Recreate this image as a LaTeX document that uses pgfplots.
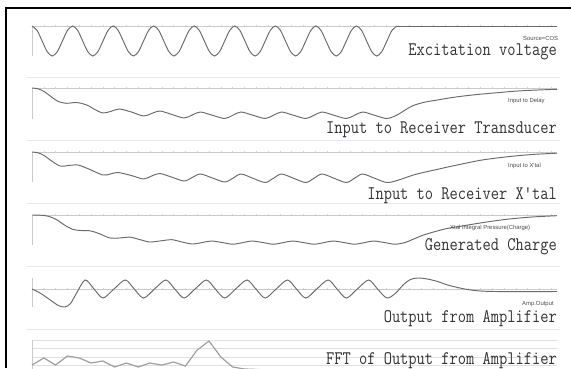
\documentclass[border=0pt]{standalone}
\usepackage{fontspec}
\usepackage{pgfplots}
\pgfplotsset{compat=1.18}
\newfontfamily\smallsans{Liberation Sans}
\definecolor{wave}{HTML}{6A6A6A}
\definecolor{base}{HTML}{CACACA}
\definecolor{sep}{HTML}{E6E6EE}
\definecolor{fftc}{HTML}{A0A0A0}
\newcommand{\bigtxt}[1]{\scalebox{1}[1.2]{\fontsize{16}{16}\selectfont\ttfamily #1}}
\pgfplotsset{
 panel/.style={
  scale only axis, width=525pt, xmin=0, xmax=12.944,
  y dir=reverse, clip=false,
  axis x line*=middle, axis y line*=left,
  axis line style={draw=base, line width=0.6pt},
  xtick distance=0.2909, xticklabels={}, ytick=\empty,
  tick align=center, major tick length=2.6pt,
  tick style={draw=base!80!white, line width=0.45pt},
  anchor=origin,
 },
 wavestyle/.style={draw=wave, line width=0.95pt, smooth, no marks},
}
\begin{document}
\begin{tikzpicture}
\useasboundingbox (0,0) rectangle (571pt,-368pt);
\fill[white] (0,0) rectangle (571pt,-368pt);
\clip (0,0) rectangle (571pt,-368pt);
% panel separators
\draw[sep, line width=0.8pt] (27pt,-77pt) -- (560pt,-77pt);
\draw[sep, line width=0.8pt] (27pt,-140pt) -- (560pt,-140pt);
\draw[sep, line width=0.8pt] (27pt,-203pt) -- (560pt,-203pt);
\draw[sep, line width=0.8pt] (27pt,-266pt) -- (560pt,-266pt);
\draw[sep, line width=0.8pt] (27pt,-329pt) -- (560pt,-329pt);

% 1 Excitation voltage
\begin{axis}[panel, at={(32pt,-26pt)}, ymin=0, ymax=30, height=30pt]
\addplot[wavestyle] coordinates {
(0,0)(0.125,4.39)(0.25,15)(0.375,25.61)(0.5,30)(0.625,25.61)(0.75,15)(0.875,4.39)
(1,0)(1.125,4.39)(1.25,15)(1.375,25.61)(1.5,30)(1.625,25.61)(1.75,15)(1.875,4.39)
(2,0)(2.125,4.39)(2.25,15)(2.375,25.61)(2.5,30)(2.625,25.61)(2.75,15)(2.875,4.39)
(3,0)(3.125,4.39)(3.25,15)(3.375,25.61)(3.5,30)(3.625,25.61)(3.75,15)(3.875,4.39)
(4,0)(4.125,4.39)(4.25,15)(4.375,25.61)(4.5,30)(4.625,25.61)(4.75,15)(4.875,4.39)
(5,0)(5.125,4.39)(5.25,15)(5.375,25.61)(5.5,30)(5.625,25.61)(5.75,15)(5.875,4.39)
(6,0)(6.125,4.39)(6.25,15)(6.375,25.61)(6.5,30)(6.625,25.61)(6.75,15)(6.875,4.39)
(7,0)(7.125,4.39)(7.25,15)(7.375,25.61)(7.5,30)(7.625,25.61)(7.75,15)(7.875,4.39)
(8,0)(8.125,4.39)(8.25,15)(8.375,25.61)(8.5,30)(8.625,25.61)(8.75,15)(8.875,4.39)
(9,0)};
\addplot[draw=wave, line width=0.95pt, no marks] coordinates {(9,0) (12.944,0)};
\end{axis}

% 2 Input to Receiver Transducer
\begin{axis}[panel, at={(32pt,-88pt)}, ymin=0, ymax=31, height=31pt]
\addplot[wavestyle] coordinates {
(0,0) (0.15,0.8) (0.3,3.5) (0.45,8) (0.65,13.5) (0.85,15.3) (1.1,14.5) (1.35,17)
(1.55,21.5) (1.75,25) (1.95,23.3) (2.15,21) (2.45,24) (2.75,28) (2.95,25.5) (3.15,23)
(3.45,26.5) (3.75,30) (3.95,27) (4.15,24) (4.45,27.3) (4.75,30.5) (4.95,27.3) (5.15,24)
(5.45,27.3) (5.75,30.5) (5.95,27.3) (6.15,24) (6.45,27.3) (6.75,30.5) (6.95,27.3) (7.15,24)
(7.45,27.3) (7.75,30.5) (7.95,27.3) (8.15,24) (8.45,27.3) (8.75,30.5) (9.0,27) (9.2,22)
(9.4,17.5) (9.7,14) (10.0,12) (10.25,10.2) (10.6,8.2) (11.05,6.2) (11.5,4.6) (11.9,3.2)
(12.4,2.1) (12.944,1.3)};
\end{axis}

% 3 Input to Receiver X'tal
\begin{axis}[panel, at={(32pt,-152pt)}, ymin=0, ymax=30, height=30pt]
\addplot[wavestyle] coordinates {
(0,0) (0.15,0.8) (0.3,3.5) (0.45,8) (0.69,14) (0.9,13.5) (1.13,13) (1.4,17)
(1.75,23) (1.95,21.8) (2.12,20.5) (2.45,23.5) (2.75,27) (2.95,24) (3.15,21.5) (3.45,25.2)
(3.75,29) (3.95,25.5) (4.15,22) (4.45,26) (4.75,30) (4.95,26.3) (5.15,22) (5.45,26.3)
(5.75,30.5) (5.95,26.3) (6.15,22) (6.45,26.3) (6.75,30.5) (6.95,26.3) (7.15,22) (7.45,26.3)
(7.75,30.5) (7.95,26.3) (8.15,22) (8.45,26.3) (8.75,30.5) (9.0,28.5) (9.2,25.8) (9.4,23)
(9.7,20) (10.0,17.3) (10.25,15) (10.6,12) (11.05,8.3) (11.5,5.8) (11.9,4) (12.4,2.3)
(12.944,1.2)};
\end{axis}

% 4 Generated Charge
\begin{axis}[panel, at={(32pt,-215pt)}, ymin=0, ymax=30, height=30pt]
\addplot[wavestyle] coordinates {
(0,0) (0.2,0.2) (0.4,1.2) (0.6,4.5) (0.8,10) (1.0,14.3) (1.2,15.5) (1.43,15.8)
(1.65,18.5) (1.92,23) (2.15,23) (2.42,22.2) (2.65,24.5) (2.91,27) (3.2,25.7) (3.45,24.7)
(3.7,27) (3.95,29) (4.2,27.5) (4.42,26) (4.7,27.6) (4.95,29.2) (5.2,27.6) (5.42,26)
(5.7,27.6) (5.95,29.2) (6.2,27.6) (6.42,26) (6.7,27.6) (6.95,29.2) (7.2,27.6) (7.42,26)
(7.7,27.6) (7.95,29.2) (8.2,27.6) (8.42,26) (8.7,27.6) (8.95,29.2) (9.2,27.5) (9.4,24.2)
(9.64,20.2) (9.9,17) (10.23,13.5) (10.6,11) (11.05,8) (11.45,5.6) (11.86,3.6) (12.4,1.8)
(12.944,0.7)};
\end{axis}

% 5 Output from Amplifier
\begin{axis}[panel, at={(32pt,-289pt)}, ymin=-11, ymax=18, height=29pt]
\addplot[wavestyle] coordinates {
(0,0) (0.2,4) (0.45,11) (0.65,16.5) (0.81,18) (0.95,14.5) (1.1,4) (1.31,-9)
(1.53,0) (1.75,9) (2.02,0) (2.3,-9) (2.52,0) (2.75,9) (3.02,0) (3.3,-9)
(3.52,0) (3.75,9) (4.02,0) (4.3,-9) (4.52,0) (4.75,9) (5.02,0) (5.3,-9)
(5.52,0) (5.75,9) (6.02,0) (6.3,-9) (6.52,0) (6.75,9) (7.02,0) (7.3,-9)
(7.52,0) (7.75,9) (8.02,0) (8.3,-9) (8.52,0) (8.75,9) (8.97,4) (9.15,-4)
(9.33,-9.5) (9.52,-11) (9.75,-10) (10.0,-7.5) (10.25,-4) (10.55,-1) (10.85,1.2) (11.2,2.3)
(11.8,2.6) (12.944,2.5)};
\end{axis}

% 6 FFT of Output from Amplifier
\begin{axis}[at={(32pt,-373.6pt)}, anchor=origin, scale only axis,
  width=525pt, height=33.6pt, xmin=0, xmax=44.49, ymin=0, ymax=4,
  axis x line=none, axis y line*=left,
  axis line style={draw=base, line width=0.6pt},
  ytick={0,1,2,3,4}, yticklabels={}, major tick length=0pt,
  ymajorgrids, grid style={draw=sep!70!base, line width=0.6pt},
  clip=false]
\addplot[draw=fftc, line width=1.2pt, no marks] coordinates {
(0,1.02)(1,1.86)(2,1.02)(3,2.10)(4,1.86)(5,1.26)(6,1.50)(7,0.79)(8,1.26)(9,0.79)
(10,1.26)(11,1.02)(12,1.38)(13,0.90)(14,2.81)(15,3.88)(16,1.98)(17,0.79)(18,0.55)
(19,0.5)(20,0.4)(25,0.3)(30,0.25)(44.49,0.2)};
\end{axis}

% big labels
\node[anchor=base east, inner sep=0pt, text=black!80] at (557pt,-55pt) {\bigtxt{Excitation voltage}};
\node[anchor=base east, inner sep=0pt, text=black!80] at (557pt,-133pt) {\bigtxt{Input to Receiver Transducer}};
\node[anchor=base east, inner sep=0pt, text=black!80] at (557pt,-199pt) {\bigtxt{Input to Receiver X\textquotesingle tal}};
\node[anchor=base east, inner sep=0pt, text=black!80] at (557pt,-250pt) {\bigtxt{Generated Charge}};
\node[anchor=base east, inner sep=0pt, text=black!80] at (557pt,-322pt) {\bigtxt{Output from Amplifier}};
\node[anchor=base east, inner sep=0pt, text=black!80] at (557pt,-364pt) {\bigtxt{FFT of Output from Amplifier}};

% small labels
\tikzset{small/.style={anchor=base west, inner sep=0pt, text=black!70, font={\smallsans\fontsize{5.9}{6}\selectfont}}}
\node[small] at (523pt,-40pt) {Source=COS};
\node[small] at (508pt,-102pt) {Input to Delay};
\node[small] at (508pt,-167pt) {Input to X'tal};
\node[small] at (450pt,-229pt) {Xtal Integral Pressure(Charge)};
\node[small] at (522pt,-305pt) {Amp.Output};

% black frame
\draw[black, line width=2pt] (6.3pt,-368pt) -- (6.3pt,-8pt) -- (571pt,-8pt);
\end{tikzpicture}
\end{document}
